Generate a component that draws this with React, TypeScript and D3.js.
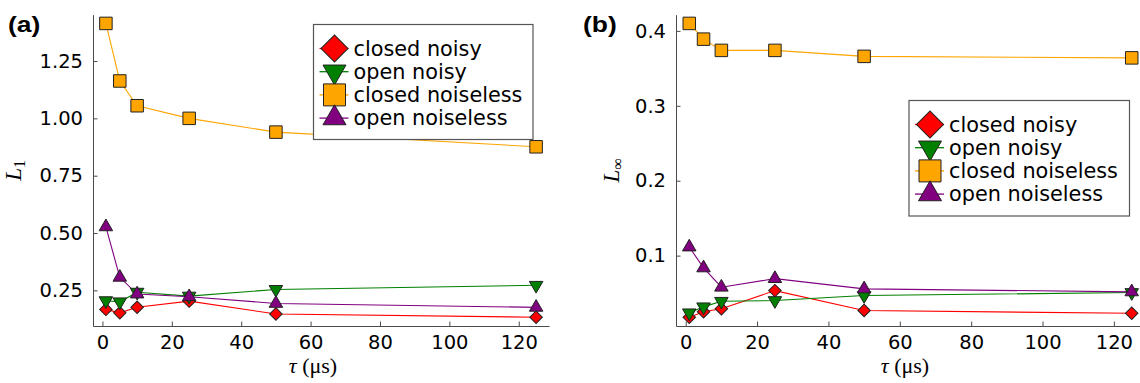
import React, { useEffect, useRef } from 'react';
import * as d3 from 'd3';

// tau values (microseconds)
const tau = [1, 5, 10, 25, 50, 125];

// panel (a): L1 distance
const closedNoisyL1 = [0.167, 0.152, 0.176, 0.203, 0.147, 0.133];
const openNoisyL1 = [0.205, 0.2, 0.242, 0.225, 0.254, 0.272];
const closedNoiselessL1 = [1.414, 1.163, 1.055, 1.0, 0.94, 0.876];
const openNoiselessL1 = [0.527, 0.307, 0.234, 0.222, 0.193, 0.176];

// panel (b): L-infinity distance
const closedNoisyLinf = [0.0178, 0.025, 0.029, 0.0533, 0.0267, 0.023];
const openNoisyLinf = [0.0236, 0.0316, 0.039, 0.04, 0.0467, 0.0507];
const closedNoiselessLinf = [0.41, 0.389, 0.374, 0.374, 0.366, 0.364];
const openNoiselessLinf = [0.1115, 0.0836, 0.0578, 0.0693, 0.0556, 0.0516];

const xTicks = [0, 20, 40, 60, 80, 100, 120];
const yTicksL1 = [0.25, 0.5, 0.75, 1.0, 1.25];
const yTicksLinf = [0.1, 0.2, 0.3, 0.4];

const seriesNames = ['closed noisy', 'open noisy', 'closed noiseless', 'open noiseless'];
const seriesColors = ['#ff0000', '#008000', '#ffa500', '#800080'];
const seriesShapes = ['diamond', 'down', 'square', 'up'];

const FONT = 'DejaVu Sans, sans-serif';

// marker path, s = overall width in px
function markerPath(shape: string, s: number) {
  if (shape === 'square') return d3.symbol().type(d3.symbolSquare).size(s * s)();
  if (shape === 'diamond') return d3.symbol().type(d3.symbolSquare).size((s * s) / 2)();
  // triangle by width
  return d3.symbol().type(d3.symbolTriangle).size((Math.sqrt(3) / 4) * s * s)();
}
function markerRot(shape: string) {
  if (shape === 'diamond') return 45;
  if (shape === 'down') return 180;
  return 0;
}

interface PanelProps {
  g: d3.Selection<SVGGElement, unknown, null, undefined>;
  series: number[][];
  left: number;
  right: number;
  yTicks: number[];
  yFmt: string;
  tag: string;
  yLabelSub: string;
  tagX: number;
  yLabelX: number;
  xLabelX: number;
  legend: { x: number; y: number; w: number; h: number };
}

function padded(lo: number, hi: number): [number, number] {
  const p = (hi - lo) * 0.03;
  return [lo - p, hi + p];
}

function drawPanel(p: PanelProps) {
  const { g, series, left, right } = p;
  const top = 14.6;
  const bottom = 326;

  const x = d3.scaleLinear().domain(padded(d3.min(tau)!, d3.max(tau)!)).range([left, right]);
  const all = series.flat();
  const y = d3.scaleLinear().domain(padded(d3.min(all)!, d3.max(all)!)).range([bottom, top]);

  const axisColor = '#4a4a4a';

  // axes
  const xa = g.append('g').attr('transform', `translate(0,${bottom})`)
    .call(d3.axisBottom(x).tickValues(xTicks).tickSize(-4.5).tickSizeOuter(0).tickPadding(9));
  xa.select('.domain').attr('stroke', axisColor);
  xa.selectAll('.tick line').attr('stroke', axisColor);
  xa.selectAll('.tick text').attr('font-family', FONT).attr('font-size', 19.5).attr('fill', '#000');

  const ya = g.append('g').attr('transform', `translate(${left},0)`)
    .call(d3.axisLeft(y).tickValues(p.yTicks).tickFormat(d3.format(p.yFmt)).tickSize(-4.5).tickSizeOuter(0).tickPadding(10));
  ya.select('.domain').attr('stroke', axisColor);
  ya.selectAll('.tick line').attr('stroke', axisColor);
  ya.selectAll('.tick text').attr('font-family', FONT).attr('font-size', 19.5).attr('fill', '#000');

  // lines
  const line = d3.line<number>().x((_, i) => x(tau[i])).y((d) => y(d));
  series.forEach((vals, k) => {
    g.append('path').datum(vals).attr('fill', 'none').attr('stroke', seriesColors[k])
      .attr('stroke-width', 1.1).attr('d', line);
  });
  // markers
  series.forEach((vals, k) => {
    const shape = seriesShapes[k];
    const s = shape === 'square' ? 12.5 : shape === 'diamond' ? 12.5 : 13.5;
    g.append('g').selectAll('path').data(vals).enter().append('path')
      .attr('d', markerPath(shape, s))
      .attr('transform', (d, i) => `translate(${x(tau[i])},${y(d)}) rotate(${markerRot(shape)})`)
      .attr('fill', seriesColors[k]).attr('stroke', '#222').attr('stroke-width', 1);
  });

  // panel tag (slightly wide bold face)
  g.append('text').attr('transform', `translate(${p.tagX},32) scale(1.2,1)`)
    .attr('font-family', 'Liberation Sans, Arial, sans-serif')
    .attr('font-weight', 'bold').attr('font-size', 22).text(p.tag);

  // y label
  const yl = g.append('text').attr('transform', `translate(${p.yLabelX},${(top + bottom) / 2}) rotate(-90)`)
    .attr('text-anchor', 'middle').attr('font-family', 'Liberation Serif, serif').attr('font-size', 23);
  yl.append('tspan').attr('font-style', 'italic').text('L');
  yl.append('tspan').attr('font-size', 16).attr('dy', 4).text(p.yLabelSub);

  // x label
  const xl = g.append('text').attr('x', p.xLabelX).attr('y', 373)
    .attr('text-anchor', 'middle').attr('font-family', 'Liberation Serif, serif').attr('font-size', 22);
  xl.append('tspan').attr('font-style', 'italic').text('τ');
  xl.append('tspan').text(' (μs)');

  // legend
  const L = p.legend;
  g.append('rect').attr('x', L.x).attr('y', L.y).attr('width', L.w).attr('height', L.h)
    .attr('fill', '#fff').attr('stroke', '#555').attr('stroke-width', 1.2);
  seriesNames.forEach((name, k) => {
    const cy = L.y + 24 + k * 23.2;
    const mx = L.x + 21;
    g.append('line').attr('x1', L.x + 6).attr('x2', L.x + 35).attr('y1', cy).attr('y2', cy)
      .attr('stroke', seriesColors[k]).attr('stroke-width', 1.3);
    const shape = seriesShapes[k];
    const s = shape === 'square' ? 22 : shape === 'diamond' ? 27 : 23;
    g.append('path').attr('d', markerPath(shape, s))
      .attr('transform', `translate(${mx},${cy}) rotate(${markerRot(shape)})`)
      .attr('fill', seriesColors[k]).attr('stroke', '#222').attr('stroke-width', 1);
    g.append('text').attr('x', L.x + 40).attr('y', cy + 7).attr('font-family', FONT)
      .attr('font-size', 20.8).attr('fill', '#000').text(name);
  });
}

export default function App() {
  const svgRef = useRef<SVGSVGElement>(null);

  useEffect(() => {
    if (!svgRef.current) return;
    const svg = d3.select(svgRef.current);
    svg.selectAll('*').remove();

    const ga = svg.append('g');
    drawPanel({
      g: ga,
      series: [closedNoisyL1, openNoisyL1, closedNoiselessL1, openNoiselessL1],
      left: 93,
      right: 549,
      yTicks: yTicksL1,
      yFmt: '.2f',
      tag: '(a)',
      yLabelSub: '1',
      tagX: 8,
      yLabelX: 21,
      xLabelX: 313,
      legend: { x: 313.5, y: 24.5, w: 219.5, h: 115 },
    });

    const gb = svg.append('g');
    drawPanel({
      g: gb,
      series: [closedNoisyLinf, openNoisyLinf, closedNoiselessLinf, openNoiselessLinf],
      left: 676,
      right: 1145,
      yTicks: yTicksLinf,
      yFmt: '.1f',
      tag: '(b)',
      yLabelSub: '∞',
      tagX: 583,
      yLabelX: 619,
      xLabelX: 905,
      legend: { x: 909, y: 100.5, w: 220.5, h: 115.5 },
    });
  }, []);

  return (
    <svg ref={svgRef} width={1140} height={383}
      style={{ position: 'absolute', left: 0, top: 0, background: '#fff' }} />
  );
}
